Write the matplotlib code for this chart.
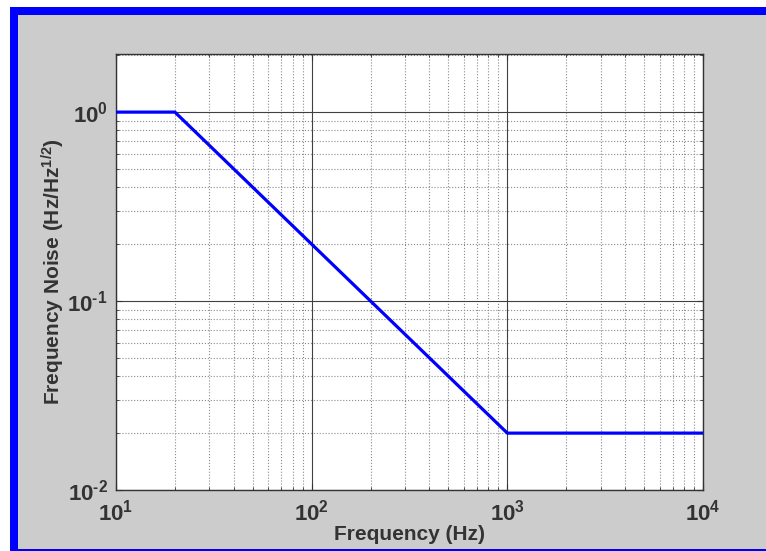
import matplotlib
matplotlib.use("Agg")
import matplotlib.pyplot as plt
from matplotlib.patches import Rectangle
from matplotlib.ticker import LogLocator, FixedLocator, NullFormatter

plt.rcParams['font.family'] = ['Liberation Sans', 'DejaVu Sans']
plt.rcParams['mathtext.fontset'] = 'custom'
plt.rcParams['mathtext.rm'] = 'Liberation Sans:bold'
plt.rcParams['mathtext.bf'] = 'Liberation Sans:bold'
plt.rcParams['mathtext.it'] = 'Liberation Sans:bold'

# Data
freq = [10, 20, 1000, 10000]
noise = [1.0, 1.0, 0.02, 0.02]
x_ticks = [10, 100, 1000, 10000]
x_ticklabels = [r'$\mathbf{10^{1}}$', r'$\mathbf{10^{2}}$', r'$\mathbf{10^{3}}$', r'$\mathbf{10^{4}}$']
y_ticks = [0.01, 0.1, 1.0]
y_ticklabels = [r'$\mathbf{10^{\text{-}2}}$', r'$\mathbf{10^{\text{-}1}}$', r'$\mathbf{10^{0}}$']

W, H = 766, 551
fig = plt.figure(figsize=(W / 100, H / 100), dpi=100, facecolor='white')

# Blue frame and gray background
fig.patches.append(Rectangle((10 / W, 0), 756 / W, 544 / H, transform=fig.transFigure,
                             facecolor='#0000ff', edgecolor='none', zorder=-10))
fig.patches.append(Rectangle((18 / W, 2 / H), 748 / W, 534 / H, transform=fig.transFigure,
                             facecolor='#cccccc', edgecolor='none', zorder=-9))

ax = fig.add_axes([116 / W, (H - 490) / H, 587 / W, 436 / H])
ax.set_facecolor('white')
ax.plot(freq, noise, color='#0000ff', lw=2.3, zorder=5)
ax.set_xscale('log')
ax.set_yscale('log')
ax.set_xlim(10, 10000)
ax.set_ylim(0.01, 2.03)

txtc = '#333333'
ax.xaxis.set_major_locator(FixedLocator(x_ticks))
ax.set_xticklabels(x_ticklabels)
ax.yaxis.set_major_locator(FixedLocator(y_ticks))
ax.set_yticklabels(y_ticklabels)
ax.xaxis.set_minor_locator(LogLocator(base=10, subs=range(2, 10)))
ax.yaxis.set_minor_locator(LogLocator(base=10, subs=range(2, 10)))
ax.xaxis.set_minor_formatter(NullFormatter())
ax.yaxis.set_minor_formatter(NullFormatter())

ax.tick_params(which='both', direction='in', top=True, right=True, colors=txtc,
               labelsize=16)
ax.tick_params(which='major', length=4, width=0.8)
ax.tick_params(which='minor', length=2, width=0.6)
ax.tick_params(axis='x', pad=7)
ax.tick_params(axis='y', pad=6)

ax.grid(True, which='major', color='#404040', lw=0.8, ls='-')
ax.grid(True, which='minor', color='#8a8a8a', lw=0.8, ls=':')
ax.set_axisbelow(True)

for s in ax.spines.values():
    s.set_color('#333333')
    s.set_linewidth(1.0)

ax.set_xlabel('Frequency (Hz)', fontsize=15, fontweight='bold', color=txtc)
ax.set_ylabel(r'Frequency Noise (Hz/Hz$^{\mathbf{1/2}}$)', fontsize=15,
              fontweight='bold', color=txtc)
ax.xaxis.set_label_coords(0.5, (490 - 525) / 436)
ax.yaxis.set_label_coords((67 - 116) / 587, 0.5)

fig.savefig('out.png', dpi=100, facecolor='white')
